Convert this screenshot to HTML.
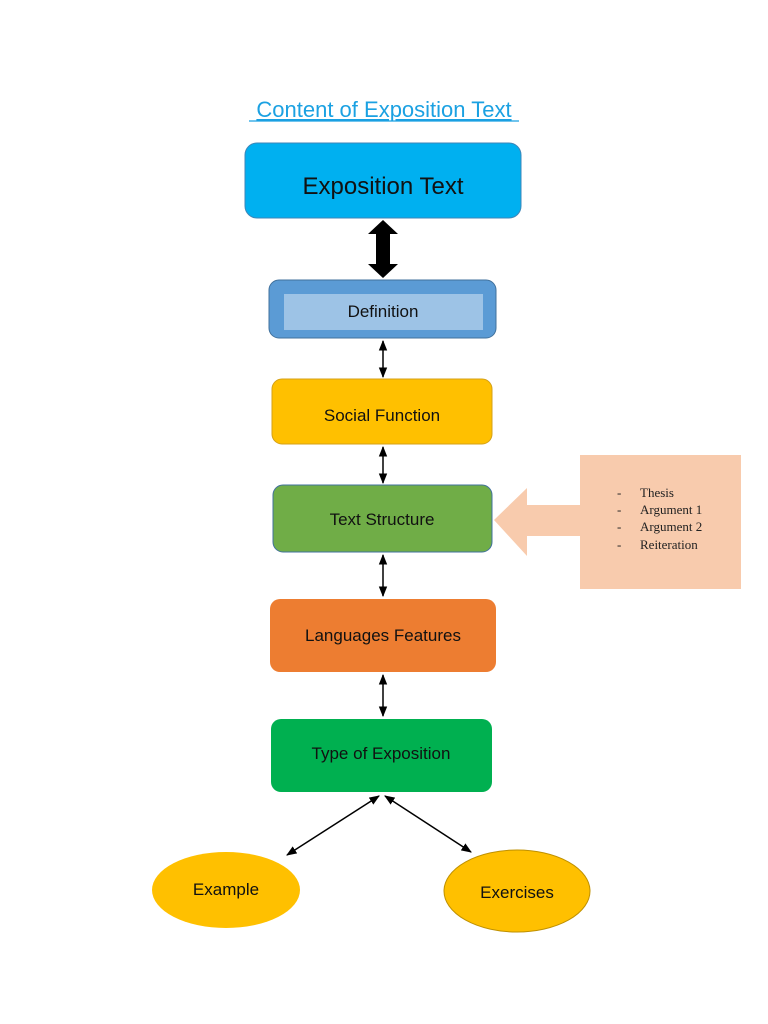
<!DOCTYPE html>
<html><head><meta charset="utf-8"><style>body{margin:0;background:#fff}svg{display:block}</style></head>
<body>
<svg width="768" height="1024" viewBox="0 0 768 1024" xmlns="http://www.w3.org/2000/svg">
<defs>
<marker id="a" viewBox="0 0 10 10" refX="9" refY="5" markerWidth="7" markerHeight="7" orient="auto-start-reverse"><path d="M0,1 L10,5 L0,9 z" fill="#000"/></marker>
</defs>
<g font-family="Liberation Sans, sans-serif" text-anchor="middle" fill="#111">
<text x="384" y="117" font-size="22" fill="#1ba1e2" text-decoration="underline">Content of Exposition Text</text>
<line x1="249" y1="121" x2="519" y2="121" stroke="#1ba1e2" stroke-width="1.3"/>
<rect x="245" y="143" width="276" height="75" rx="12" fill="#00b0f0" stroke="#3d86b8"/>
<text x="383" y="194" font-size="24">Exposition Text</text>
<path d="M383,220 L398,234 L390,234 L390,264 L398,264 L383,278 L368,264 L376,264 L376,234 L368,234 Z" fill="#000"/>
<rect x="269" y="280" width="227" height="58" rx="10" fill="#5b9bd5" stroke="#41719c"/>
<rect x="284" y="294" width="199" height="36" fill="#9dc3e6"/>
<text x="383" y="317" font-size="17">Definition</text>
<line x1="383" y1="341" x2="383" y2="377" stroke="#000" stroke-width="1.5" marker-start="url(#a)" marker-end="url(#a)"/>
<rect x="272" y="379" width="220" height="65" rx="10" fill="#ffc000" stroke="#d4a017"/>
<text x="382" y="421" font-size="17">Social Function</text>
<line x1="383" y1="447" x2="383" y2="483" stroke="#000" stroke-width="1.5" marker-start="url(#a)" marker-end="url(#a)"/>
<rect x="273" y="485" width="219" height="67" rx="10" fill="#70ad47" stroke="#41719c"/>
<text x="382" y="525" font-size="17">Text Structure</text>
<line x1="383" y1="555" x2="383" y2="596" stroke="#000" stroke-width="1.5" marker-start="url(#a)" marker-end="url(#a)"/>
<rect x="270" y="599" width="226" height="73" rx="10" fill="#ed7d31"/>
<text x="383" y="641" font-size="17">Languages Features</text>
<line x1="383" y1="675" x2="383" y2="716" stroke="#000" stroke-width="1.5" marker-start="url(#a)" marker-end="url(#a)"/>
<rect x="271" y="719" width="221" height="73" rx="10" fill="#00b050"/>
<text x="381" y="759" font-size="17">Type of Exposition</text>
<line x1="379" y1="796" x2="287" y2="855" stroke="#000" stroke-width="1.5" marker-start="url(#a)" marker-end="url(#a)"/>
<line x1="385" y1="796" x2="471" y2="852" stroke="#000" stroke-width="1.5" marker-start="url(#a)" marker-end="url(#a)"/>
<ellipse cx="226" cy="890" rx="74" ry="38" fill="#ffc000"/>
<text x="226" y="895" font-size="17">Example</text>
<ellipse cx="517" cy="891" rx="73" ry="41" fill="#ffc000" stroke="#bf9000"/>
<text x="517" y="898" font-size="17">Exercises</text>
<rect x="580" y="455" width="161" height="134" fill="#f8cbad"/>
<path d="M494,520 L527,488 L527,505 L581,505 L581,536 L527,536 L527,556 Z" fill="#f8cbad"/>
</g>
<g font-family="Liberation Serif, serif" font-size="13" fill="#222">
<text x="617" y="497">-</text><text x="640" y="497">Thesis</text>
<text x="617" y="514">-</text><text x="640" y="514">Argument 1</text>
<text x="617" y="531">-</text><text x="640" y="531">Argument 2</text>
<text x="617" y="549">-</text><text x="640" y="549">Reiteration</text>
</g>
</svg>
</body></html>
